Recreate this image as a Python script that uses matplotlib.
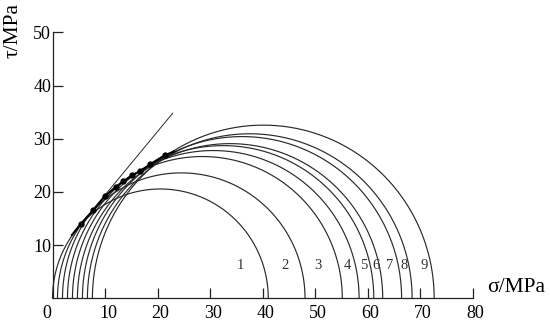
import numpy as np
import matplotlib
matplotlib.use("Agg")
import matplotlib.pyplot as plt
from matplotlib.transforms import ScaledTranslation

# Mohr circles: minor and major principal stresses (MPa)
sigma3 = [0.0, 0.95, 1.9, 2.85, 3.8, 4.75, 5.7, 6.65, 7.6]
sigma1 = [41.1, 48.1, 55.2, 58.4, 61.2, 62.9, 66.5, 68.5, 72.7]
circle_labels = ["1", "2", "3", "4", "5", "6", "7", "8", "9"]
label_sigma = [35.7, 44.3, 50.6, 56.2, 59.2, 61.6, 64.3, 67.0, 70.8]
label_tau = 6.2

# tangent points (dots) on the strength envelope
dot_sigma = [5.4, 7.8, 10.0, 12.0, 13.5, 15.1, 16.7, 18.6, 21.4]
dot_tau = [14.0, 16.6, 19.2, 20.9, 22.0, 23.1, 23.9, 25.2, 26.9]

# curved envelope (through the dots)
env_sigma = [3.7, 5.4, 7.8, 10.0, 12.0, 13.5, 15.1, 16.7, 18.6, 21.4, 23.2]
env_tau = [11.9, 14.0, 16.6, 19.2, 20.9, 22.0, 23.1, 23.9, 25.2, 26.9, 27.6]

# straight envelope line
line_sigma = [3.8, 22.9]
line_tau = [12.0, 34.8]

x_ticks = [0, 10, 20, 30, 40, 50, 60, 70, 80]
y_ticks = [10, 20, 30, 40, 50]

serif = ["Liberation Serif", "DejaVu Serif"]

fig = plt.figure(figsize=(5.5, 3.25), dpi=100)
ax = fig.add_axes([52.5 / 550, (325 - 298.3) / 325, 420 / 550, 266 / 325])

lc = "#2a2a2a"
for s3, s1 in zip(sigma3, sigma1):
    c = (s1 + s3) / 2
    r = (s1 - s3) / 2
    th = np.linspace(0, np.pi, 400)
    ax.plot(c + r * np.cos(th), r * np.sin(th), color=lc, lw=0.85, clip_on=False)

ax.plot(line_sigma, line_tau, color=lc, lw=0.7)
ax.plot(env_sigma, env_tau, color="black", lw=1.5)
ax.plot(dot_sigma, dot_tau, "o", color="black", ms=3.5)

for lab, xs in zip(circle_labels, label_sigma):
    ax.text(xs, label_tau, lab, fontsize=10.5, family=serif, color="#333333",
            ha="center", va="center")

ax.set_xlim(0, 80)
ax.set_ylim(0, 50)
ax.spines["top"].set_visible(False)
ax.spines["right"].set_visible(False)
for s in ("left", "bottom"):
    ax.spines[s].set_linewidth(0.9)
    ax.spines[s].set_color("#222222")

ax.set_xticks(x_ticks)
ax.set_xticklabels([str(v) for v in x_ticks], family=serif, fontsize=13)
ax.set_yticks(y_ticks)
ax.set_yticklabels([str(v) for v in y_ticks], family=serif, fontsize=13)
ax.tick_params(axis="both", direction="in", length=7, width=0.9, color="#222222")
ax.tick_params(axis="x", pad=5)
ax.tick_params(axis="y", pad=1)
ax.xaxis.get_major_ticks()[0].tick1line.set_visible(False)

for i, lbl in enumerate(ax.get_xticklabels()):
    dx = -6 if i == 0 else 3
    lbl.set_transform(lbl.get_transform() + ScaledTranslation(dx / 100, 0, fig.dpi_scale_trans))

fig.text(487 / 550, 1 - 287 / 325, "σ/MPa", family=serif, fontsize=15.5,
         ha="left", va="center")
fig.text(13 / 550, 1 - 31 / 325, "τ/MPa", family=serif, fontsize=15.5,
         ha="center", va="center", rotation=90)

fig.savefig("out.png", dpi=100)
